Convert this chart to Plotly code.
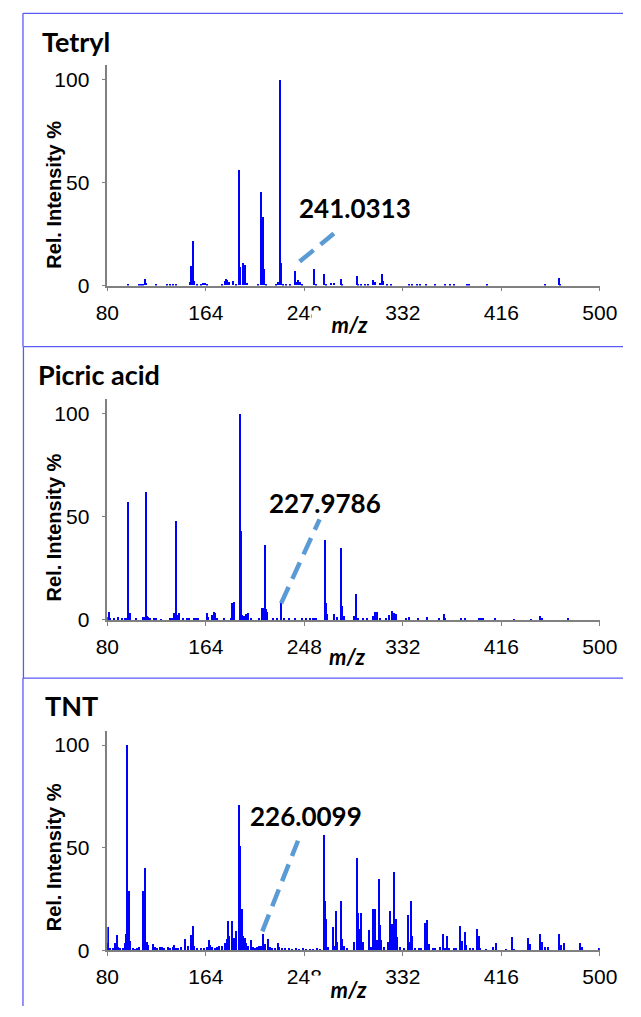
import plotly.graph_objects as go

# ---------------- data ----------------
tetryl_mz = [98.4, 107, 109, 111, 112.5, 113.5, 122, 131, 134, 136, 139, 150.5, 151.3, 152.3, 153.2, 154.2,
             157, 160, 162, 163.5, 165, 178, 180.5, 181.6, 182.5, 184, 187.8, 190.5, 193.0, 193.8, 196.0,
             197.0, 197.9, 199.5, 209, 211.4, 212.8, 214.1, 216, 224, 225.5, 226.5, 227.4, 228.5, 230.5,
             233, 236, 240.7, 242.2, 243.3, 244.5, 246.5, 257, 258.2, 265.4, 266.5, 271.5, 273.5, 279.2,
             280.2, 293.2, 294.3, 297, 300, 303, 307, 308.8, 313, 314.9, 315.8, 319, 322, 337.4, 340, 344,
             347, 352.3, 360, 368, 372.3, 376, 387.2, 389, 403.8, 453.6, 465.3, 466.6]
tetryl_int = [0.8, 0.5, 0.6, 0.8, 3.2, 1.0, 0.4, 0.5, 0.4, 0.5, 0.6, 1.5, 9.3, 4.0, 21.3, 2.0,
              0.5, 0.6, 1.0, 1.2, 0.6, 0.6, 2.0, 3.2, 2.5, 1.5, 2.2, 0.8, 56.0, 8.9, 10.6,
              5.8, 9.9, 1.0, 0.8, 45.2, 33.0, 8.0, 0.7, 0.8, 1.5, 1.2, 100.0, 10.6, 0.8,
              0.6, 0.6, 6.9, 1.5, 2.5, 1.8, 0.6, 7.8, 0.7, 5.7, 0.7, 1.1, 1.0, 2.9,
              0.8, 4.4, 0.6, 0.7, 0.8, 0.8, 2.4, 1.6, 1.3, 5.6, 2.0, 0.5, 0.5, 0.6, 0.7, 0.6,
              0.5, 0.6, 0.4, 0.4, 0.5, 0.5, 0.7, 0.5, 0.6, 0.4, 3.7, 0.7]

picric_mz = [80.5, 81.4, 83, 86, 89.5, 92.5, 95, 96.5, 97.6, 98.5, 99.5, 105, 111, 112.2, 113.1, 114.2,
             115, 116.5, 120, 122, 126, 133.5, 135.5, 137.2, 139.1, 140.1, 141.5, 145, 148, 150, 154, 156,
             158, 165.4, 166.4, 169.5, 171.3, 172.5, 174, 180, 185.5, 187, 188, 193.3, 194.4, 195.4, 197,
             198.5, 200, 203, 210, 212, 213, 214.7, 215.8, 216.8, 222, 225, 228.2, 231, 235, 240, 246,
             250, 253, 255.5, 257, 258.5, 265.6, 266.5, 267.6, 273.7, 276, 280.0, 280.8, 282, 290.5,
             292.7, 294, 298, 302, 306.5, 309, 310.3, 313, 318, 320.5, 323.3, 325, 326.5, 335, 337.5,
             345, 353.1, 363, 367.2, 368.5, 382, 385.6, 397, 399, 401, 411.1, 427, 442, 449.3, 451, 473]
picric_int = [1.5, 3.8, 0.6, 0.8, 1.6, 0.5, 0.6, 0.7, 57.3, 1.0, 3.5, 0.5, 1.5, 1.5, 62.1, 1.9,
              1.6, 0.8, 0.6, 0.5, 0.4, 0.7, 1.0, 3.5, 47.8, 2.4, 3.2, 1.0, 0.8, 0.9, 0.6, 0.8,
              0.5, 3.2, 1.5, 2.5, 4.0, 3.5, 1.0, 0.8, 0.7, 8.0, 8.5, 100.0, 43.2, 2.5, 2.0,
              2.9, 3.5, 0.8, 0.5, 5.6, 5.8, 36.3, 5.2, 4.0, 0.5, 0.6, 8.3, 0.5, 0.5, 0.5, 0.6,
              0.6, 0.6, 0.9, 0.9, 0.8, 38.9, 8.0, 3.0, 2.7, 1.5, 35.0, 7.0, 2.0, 2.0,
              12.6, 1.0, 0.6, 0.5, 1.8, 4.0, 3.7, 0.6, 0.6, 2.4, 4.3, 3.5, 3.0, 1.1, 1.4,
              0.5, 1.4, 0.5, 2.7, 0.6, 0.5, 1.1, 0.8, 0.8, 0.8, 1.1, 0.4, 0.4, 1.9, 0.6, 0.5]

tnt_mz = [80.5, 81.3, 83, 85, 87, 88.7, 89.6, 91.5, 93.5, 95.3, 96.0, 96.8, 97.8, 98.7, 99.6, 102, 104,
          106, 107.3, 110.4, 111.3, 112.5, 114, 115, 119.3, 121, 123, 125, 127, 129, 132.5, 134, 136,
          137.5, 139, 141, 143, 146.9, 149, 151.3, 153.2, 154.5, 157, 160, 163, 165.3, 166.7, 168, 170,
          172, 174, 176, 178.5, 180.5, 182, 183, 184.5, 187, 188.2, 190.5, 192.7, 193.8, 194.9, 196,
          197.5, 199, 200.5, 202.5, 204.5, 206, 208, 210, 211.5, 213.3, 214.5, 217.4, 219, 221, 223,
          225.5, 227, 229, 232, 235, 238, 241, 244, 247, 250, 253, 256, 259, 262, 265.1, 266.2, 267.0,
          268.5, 272.4, 273.5, 275.4, 276.4, 279.2, 280.1, 281.8, 284.5, 291, 293.2, 294.2, 295.3, 297,
          298.2, 303.3, 305, 307, 309, 310, 311.7, 312.6, 313.7, 316, 320, 321.2, 322.8, 324, 325.2,
          326.1, 327.2, 330, 333, 336.9, 338, 339.1, 340.2, 343, 346, 348, 350.9, 352, 353.1, 354.3,
          358, 360, 364, 366.7, 368, 370, 371.5, 376, 378, 381.3, 382.9, 385.4, 386.5, 390, 392, 395.4,
          397, 398.5, 403, 409.4, 411.4, 420, 425.5, 427, 439, 441, 449.3, 451.2, 453.5, 456, 465.3,
          467, 469.7, 483.7, 485.5, 499.5]
tnt_int = [11.1, 3.5, 1.0, 1.2, 3.2, 7.4, 1.5, 1.0, 0.8, 3.5, 8.0, 100.0, 8.0, 28.9, 4.3, 0.8, 0.6,
           0.8, 1.6, 28.8, 1.8, 39.9, 3.9, 2.6, 2.7, 1.5, 1.2, 1.7, 1.3, 0.8, 1.5, 1.2, 1.7,
           2.2, 1.0, 1.2, 1.5, 5.5, 1.9, 7.2, 11.9, 1.9, 0.8, 1.0, 1.2, 1.6, 4.8, 2.6, 1.5,
           1.0, 1.3, 1.8, 2.0, 3.5, 5.5, 14.3, 6.8, 14.3, 6.0, 9.2, 70.6, 50.6, 20.1, 6.8,
           6.0, 3.5, 1.8, 5.1, 1.5, 1.2, 1.4, 1.8, 2.0, 8.0, 2.7, 5.6, 1.6, 1.2, 1.0,
           3.5, 1.5, 1.0, 0.8, 1.0, 0.7, 0.8, 0.6, 0.8, 0.5, 0.7, 0.6, 0.8, 0.6, 56.1, 23.8, 15.2,
           1.6, 11.0, 1.9, 18.8, 4.0, 23.8, 5.6, 1.9, 1.0, 4.0, 45.0, 18.0, 10.0, 18.0,
           4.0, 9.6, 1.5, 19.8, 20.1, 4.8, 34.6, 12.4, 4.8, 1.6, 4.0, 19.0, 12.5, 4.8, 38.0,
           15.3, 6.4, 1.5, 1.0, 16.9, 4.0, 24.1, 7.0, 1.2, 1.0, 1.2, 13.3, 3.0, 14.8, 2.9,
           1.2, 1.0, 1.6, 7.6, 1.0, 6.8, 1.1, 0.8, 0.8, 11.6, 4.3, 8.8, 2.4, 0.8, 0.8, 10.0,
           6.8, 0.8, 0.5, 1.6, 3.5, 0.4, 6.4, 0.4, 6.0, 2.9, 7.7, 4.0, 1.3, 1.6, 7.6,
           2.4, 3.5, 3.5, 1.3, 0.8]

panel_names = ["Tetryl", "Picric acid", "TNT"]
peak_labels = ["241.0313", "227.9786", "226.0099"]
# callout dashed line ends (m/z, intensity) for each panel
callout_start = [(244.0, 11.7), (228.2, 8.0), (212.2, 9.2)]
callout_end = [(273.2, 25.3), (261.0, 48.8), (242.6, 53.4)]

x_ticks = [80, 164, 248, 332, 416, 500]
y_ticks = [0, 50, 100]

# ---------------- layout helpers (pixel geometry) ----------------
W, H = 641, 1017
def px(p):
    return p / W
def py(p):
    return 1 - p / H

spectra = [(tetryl_mz, tetryl_int), (picric_mz, picric_int), (tnt_mz, tnt_int)]
x_left, x_right = 100.0, 616.7
y_zero = [288.7, 626.7, 960.7]
y_top = [66.0, 403.3, 739.3]
y_range_top = [107.1, 107.2, 106.7]

title_pos = [(29, 41.7), (25.5, 378.3), (33, 713.3)]
ytitle_pos = [(44, 197), (44, 533.3), (44, 866.7)]
mz_pos = [(354.5, 328.3), (352.4, 663.3), (353.4, 1000)]
mz_bg = [True, False, True]
label_pos = [(360, 210), (328.4, 508.3), (308.8, 825)]

fig = go.Figure()
annotations = []
shapes = []
axis_color = "#808080"
tick_font = dict(family="Liberation Sans, Arial, sans-serif", size=21, color="black")

for i, (mz, inten) in enumerate(spectra):
    sfx = "" if i == 0 else str(i + 1)
    fig.add_trace(go.Bar(x=mz, y=inten, width=1.0, marker=dict(color="#0000FF", line=dict(width=0)),
                         xaxis="x" + sfx, yaxis="y" + sfx, showlegend=False, hoverinfo="skip"))
    fig.update_layout(**{
        "xaxis" + sfx: dict(domain=[px(x_left), px(x_right)], range=[80, 500], anchor="y" + sfx,
                            tickmode="array", tickvals=x_ticks, ticks="outside", ticklen=4, tickwidth=1.3,
                            tickcolor=axis_color, showline=True, linecolor=axis_color, linewidth=1.5,
                            showgrid=False, zeroline=False, tickfont=tick_font, ticklabelstandoff=3),
        "yaxis" + sfx: dict(domain=[py(y_zero[i]), py(y_top[i])], range=[0, y_range_top[i]],
                            anchor="x" + sfx, tickmode="array", tickvals=y_ticks, ticks="outside",
                            ticklen=4, tickwidth=1.3, tickcolor=axis_color, showline=True,
                            linecolor=axis_color, linewidth=1.5, showgrid=False, zeroline=False,
                            tickfont=tick_font, ticklabelstandoff=8),
    })
    annotations.append(dict(text="<b>" + panel_names[i] + "</b>", x=px(title_pos[i][0]), y=py(title_pos[i][1]),
                            xref="paper", yref="paper", xanchor="left", yanchor="middle", showarrow=False,
                            font=dict(family="Lato, Open Sans, sans-serif", size=27, color="black")))
    annotations.append(dict(text="<b>Rel. Intensity %</b>", x=px(ytitle_pos[i][0]), y=py(ytitle_pos[i][1]),
                            xref="paper", yref="paper", xanchor="center", yanchor="middle", textangle=-90,
                            showarrow=False,
                            font=dict(family="Liberation Sans, Arial, sans-serif", size=20, color="black")))
    if mz_bg[i]:
        annotations.append(dict(text="<b><i>m/z</i></b>", x=px(mz_pos[i][0] + 20), y=py(mz_pos[i][1]),
                                xref="paper", yref="paper", xanchor="right", yanchor="middle", width=56,
                                align="right", bgcolor="white", borderpad=0, showarrow=False,
                                font=dict(family="Lato, Open Sans, sans-serif", size=22, color="black")))
    else:
        annotations.append(dict(text="<b><i>m/z</i></b>", x=px(mz_pos[i][0]), y=py(mz_pos[i][1]),
                                xref="paper", yref="paper", xanchor="center", yanchor="middle",
                                showarrow=False,
                                font=dict(family="Lato, Open Sans, sans-serif", size=22, color="black")))
    annotations.append(dict(text="<b>" + peak_labels[i] + "</b>", x=px(label_pos[i][0]), y=py(label_pos[i][1]),
                            xref="paper", yref="paper", xanchor="center", yanchor="middle", showarrow=False,
                            font=dict(family="Lato, Open Sans, sans-serif", size=26, color="black")))
    shapes.append(dict(type="line", xref="x" + sfx, yref="y" + sfx,
                       x0=callout_start[i][0], y0=callout_start[i][1],
                       x1=callout_end[i][0], y1=callout_end[i][1],
                       line=dict(color="#5B9BD5", width=4.5, dash="18px,9px")))

frame_color = "#5A5AF5"
frame_tops = [13.5, 350.5, 685.5]
frame_bottoms = [350.5, 685.5, 1017]
frame_lefts = [11.5, 12.0, 11.5]
for t, b, l in zip(frame_tops, frame_bottoms, frame_lefts):
    shapes.append(dict(type="line", xref="paper", yref="paper", x0=px(l), x1=1.0, y0=py(t), y1=py(t),
                       line=dict(color=frame_color, width=1.3)))
    shapes.append(dict(type="line", xref="paper", yref="paper", x0=px(l), x1=px(l), y0=py(t), y1=py(b),
                       line=dict(color=frame_color, width=1.3)))

fig.update_layout(width=W, height=H, autosize=False, margin=dict(l=0, r=0, t=0, b=0, pad=0),
                  paper_bgcolor="white", plot_bgcolor="white", bargap=0, hovermode=False,
                  annotations=annotations, shapes=shapes)

fig.write_html("out.html", config={"displayModeBar": False},
               post_script="document.body.style.margin='0';document.body.style.overflow='hidden';")
